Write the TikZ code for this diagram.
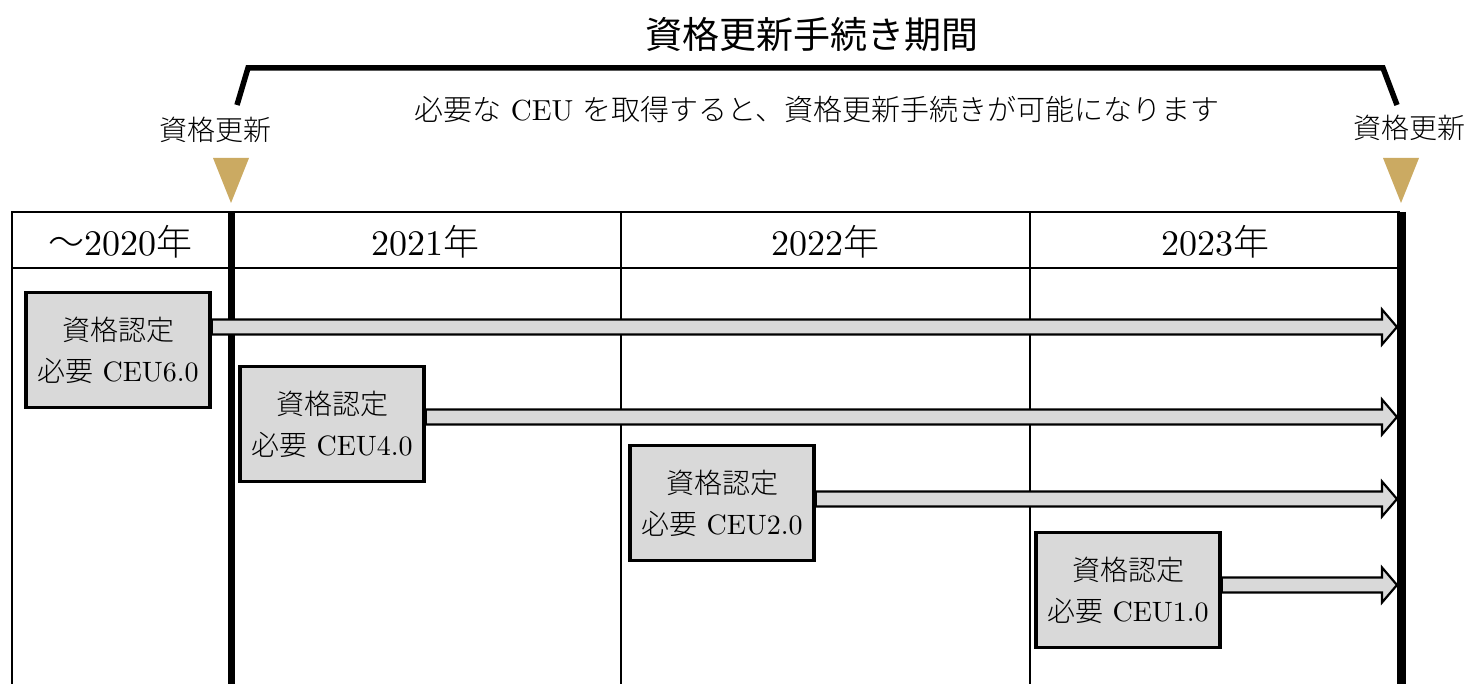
\documentclass[tikz,border=0pt]{standalone}
\usepackage{fontspec}
\setmainfont{lmroman10-regular.otf}
\newfontfamily\cjk{Noto Sans CJK JP Light}
\newfontfamily\cjkreg{Noto Sans CJK JP}
\usetikzlibrary{backgrounds,calc}
\newcommand{\jp}[1]{{\cjk #1}}
\definecolor{gold}{HTML}{CBAA62}
\definecolor{boxgray}{HTML}{D9D9D9}
\tikzset{
  tbl/.style={line width=1.6pt},
  thick rule/.style={line width=#1},
  yearlbl/.style={font=\fontsize{36}{40}\selectfont, anchor=center, inner sep=0pt},
  renew/.style={font=\fontsize{28}{32}\selectfont, anchor=center, inner sep=0pt},
  cert/.style={draw, line width=3.5pt, fill=boxgray, minimum width=184pt, minimum height=115pt,
    align=center, inner sep=0pt, font=\fontsize{28}{41}\selectfont},
  bigarrow/.style={draw, line width=2.2pt, fill=boxgray, line join=miter},
  bracketline/.style={line width=5.5pt, line join=miter},
}
\begin{document}
\begin{tikzpicture}[x=1pt,y=-1pt]
\useasboundingbox (0,0) rectangle (1468,684);
% title and bracket
\node[font=\fontsize{37}{42}\selectfont\cjkreg, inner sep=0pt] (title) at (812,35) {資格更新手続き期間};
\draw[bracketline] (237,105) -- (248,68) -- (1383,68) -- (1397,105);
\node[font=\fontsize{29}{34}\selectfont, inner sep=0pt] (sub) at (817,110) {\jp{必要な} CEU \jp{を取得すると、資格更新手続きが可能になります}};
% renewal labels and triangles
\node[renew] (r1) at (215,130) {\jp{資格更新}};
\node[renew] (r2) at (1409,128) {\jp{資格更新}};
\fill[gold] (213,158) -- (249,158) -- (231,203) -- cycle;
\fill[gold] (1383,158) -- (1419,158) -- (1401,203) -- cycle;
% header texts
\node[yearlbl] (y0) at (120,242) {\jp{～}2020\jp{年}};
\node[yearlbl] (y1) at (425,242) {2021\jp{年}};
\node[yearlbl] (y2) at (825,242) {2022\jp{年}};
\node[yearlbl] (y3) at (1215,242) {2023\jp{年}};
% certification boxes
\node[cert] (b1) at (118,350) {\jp{資格認定}\\\jp{必要} CEU6.0};
\node[cert] (b2) at (332,424) {\jp{資格認定}\\\jp{必要} CEU4.0};
\node[cert] (b3) at (722,503) {\jp{資格認定}\\\jp{必要} CEU2.0};
\node[cert] (b4) at (1128,590) {\jp{資格認定}\\\jp{必要} CEU1.0};
\coordinate (e1) at (1397,327);
\coordinate (e2) at (1397,417);
\coordinate (e3) at (1397,499);
\coordinate (e4) at (1397,585);
\begin{scope}[on background layer]
  % table
  \draw[tbl] (12,684) -- (12,212) -- (1400,212);
  \draw[tbl] (12,268) -- (1400,268);
  \draw[tbl] (621,212) -- (621,684);
  \draw[tbl] (1030,212) -- (1030,684);
  \draw[thick rule=7pt] (231,212) -- (231,684);
  \draw[thick rule=9pt] (1401,212) -- (1401,684);
  % arrows
  \foreach \b/\e in {b1/e1,b2/e2,b3/e3,b4/e4}{
    \draw[bigarrow] ($(\b.east |- \e)+(0,7.5)$) -- ($(\e)+(-15,7.5)$) -- ($(\e)+(-15,17.5)$)
      -- (\e) -- ($(\e)+(-15,-17.5)$) -- ($(\e)+(-15,-7.5)$) -- ($(\b.east |- \e)+(0,-7.5)$) -- cycle;
  }
\end{scope}
\end{tikzpicture}
\end{document}
